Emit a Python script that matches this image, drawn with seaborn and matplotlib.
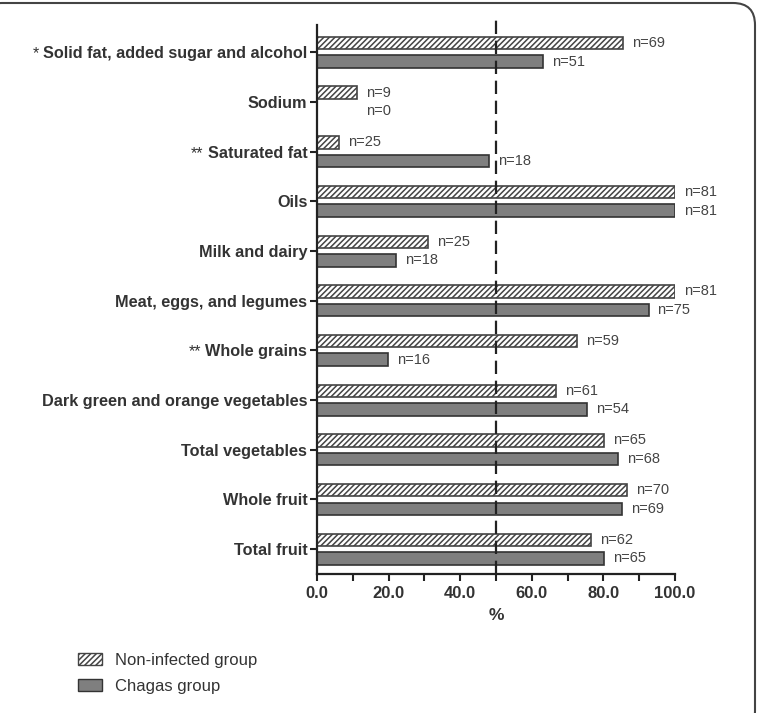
import matplotlib
matplotlib.use("Agg")
import matplotlib.pyplot as plt
import matplotlib.patches as mpatches
from matplotlib.patches import FancyBboxPatch
from matplotlib.ticker import MultipleLocator
import seaborn as sns
import pandas as pd

categories = [
    "Solid fat, added sugar and alcohol",
    "Sodium",
    "Saturated fat",
    "Oils",
    "Milk and dairy",
    "Meat, eggs, and legumes",
    "Whole grains",
    "Dark green and orange vegetables",
    "Total vegetables",
    "Whole fruit",
    "Total fruit",
]
markers = ["*", "", "**", "", "", "", "**", "", "", "", ""]
non_infected = [85.4, 11.2, 6.1, 100.0, 30.9, 100.0, 72.7, 66.8, 80.2, 86.5, 76.5]
chagas = [63.0, 0.0, 48.1, 100.0, 22.1, 92.6, 19.7, 75.3, 84.0, 85.2, 80.2]
n_non_infected = [69, 9, 25, 81, 25, 81, 59, 61, 65, 70, 62]
n_chagas = [51, 0, 18, 81, 18, 75, 16, 54, 68, 69, 65]
groups = ["Non-infected group", "Chagas group"]
reference_line = 50.0
xticks = [0, 20, 40, 60, 80, 100]

sns.set_style("ticks")
plt.rcParams["font.family"] = ["Liberation Sans", "DejaVu Sans"]
plt.rcParams["hatch.linewidth"] = 1.1

df = pd.DataFrame({
    "category": categories * 2,
    "group": [groups[0]] * len(categories) + [groups[1]] * len(categories),
    "value": non_infected + chagas,
})

fig = plt.figure(figsize=(7.6, 7.13), dpi=100)
ax = fig.add_axes([317 / 760, 1 - 574 / 713, (675 - 317) / 760, (574 - 25) / 713])

edge = "#333333"
sns.barplot(data=df, y="category", x="value", hue="group", order=categories,
            hue_order=groups, palette=["white", "#7f7f7f"], orient="h",
            width=0.75, gap=0.33, edgecolor=edge, linewidth=1.2, ax=ax,
            errorbar=None, legend=False)

for bar in ax.containers[0]:
    bar.set_hatch("//////")
    bar.set_edgecolor("#444444")

# n labels
for ci, (vals, ns) in enumerate([(non_infected, n_non_infected), (chagas, n_chagas)]):
    for i, bar in enumerate(ax.containers[ci]):
        y = bar.get_y() + bar.get_height() / 2
        x = bar.get_width()
        if x == 0:
            x = ax.containers[0][i].get_width()
        ax.annotate(f"n={ns[i]}", xy=(x, y), xytext=(6.5, 0),
                    textcoords="offset points", va="center", ha="left",
                    fontsize=10.5, color="#444444")

ax.axvline(reference_line, ymin=0, ymax=1.01, color="#222222", lw=1.6,
           ls=(0, (6, 3)), clip_on=False, zorder=3)

ax.set_xlim(0, 100)
ax.set_ylim(10.5, -0.55)
ax.set_xticks(xticks)
ax.set_xticklabels([f"{v:.1f}" for v in xticks])
ax.xaxis.set_minor_locator(MultipleLocator(10))
ax.tick_params(axis="x", which="both", length=5, width=1.5, color="#222222",
               labelsize=12, labelcolor="#333333", pad=4)
ax.tick_params(axis="y", length=5, width=1.5, color="#222222",
               labelsize=11.7, labelcolor="#333333", pad=2)
for lab in ax.get_xticklabels() + ax.get_yticklabels():
    lab.set_fontweight("bold")
ax.set_ylabel("")
ax.set_xlabel("%", fontsize=12.5, fontweight="bold", color="#333333", labelpad=5)
sns.despine(ax=ax)
for s in ["left", "bottom"]:
    ax.spines[s].set_linewidth(1.6)
    ax.spines[s].set_color("#222222")

# significance markers before tick labels
fig.canvas.draw()
renderer = fig.canvas.get_renderer()
for lab, mk in zip(ax.get_yticklabels(), markers):
    if mk:
        bb = lab.get_window_extent(renderer)
        fx = (bb.x0 - 4) / fig.bbox.width
        fy = (bb.y0 + bb.height * 0.5) / fig.bbox.height
        fig.text(fx, fy, mk, ha="right", va="center", fontsize=11.5,
                 color="#333333")

# legend
handles = [
    mpatches.Patch(facecolor="white", edgecolor="#444444", hatch="//////", lw=1.0),
    mpatches.Patch(facecolor="#7f7f7f", edgecolor=edge, lw=1.0),
]
fig.legend(handles, groups, loc="upper left", bbox_to_anchor=(63 / 760, 1 - 638 / 713),
           frameon=False, fontsize=12, handlelength=1.45, handleheight=0.7,
           handletextpad=0.75, labelspacing=0.65, labelcolor="#333333")

# rounded frame
frame = FancyBboxPatch((-20, -20), 775, 730, boxstyle="round,pad=0,rounding_size=22",
                       fill=False, edgecolor="#444444", lw=1.5, clip_on=False)
frame.set_transform(matplotlib.transforms.IdentityTransform())
frame.set_bounds(-20, -20, 775, 713 - 3 + 20)
fig.patches.append(frame)

fig.savefig("out.png", dpi=100)
